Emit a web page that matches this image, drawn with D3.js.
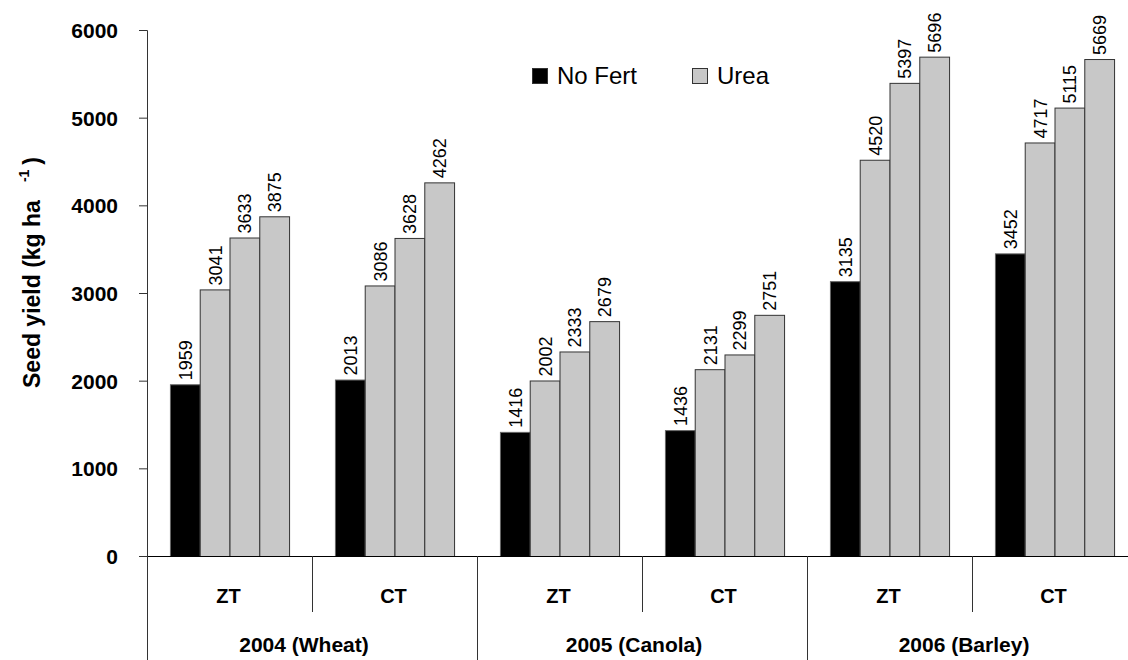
<!DOCTYPE html>
<html>
<head>
<meta charset="utf-8">
<script src="https://cdn.jsdelivr.net/npm/d3@7"></script>
<style>
  html, body { margin: 0; padding: 0; background: #fff; }
  svg { display: block; font-family: Arial, "Liberation Sans", sans-serif; }
</style>
</head>
<body>
<svg id="chart" width="1128" height="660"></svg>
<script>
// ---- data ----
const years = ["2004 (Wheat)", "2005 (Canola)", "2006 (Barley)"];
const tillage = ["ZT", "CT"];
const seriesNames = ["No Fert", "Urea", "Urea", "Urea"];
const noFert = [1959, 2013, 1416, 1436, 3135, 3452];
const urea1  = [3041, 3086, 2002, 2131, 4520, 4717];
const urea2  = [3633, 3628, 2333, 2299, 5397, 5115];
const urea3  = [3875, 4262, 2679, 2751, 5696, 5669];
const yTicks = [0, 1000, 2000, 3000, 4000, 5000, 6000];
const legendItems = ["No Fert", "Urea"];
const yLabel = "Seed yield (kg ha";

// ---- build ----
const clusters = [];
years.forEach((yr, i) => tillage.forEach((t, j) => clusters.push({ id: i * 2 + j, year: yr, till: t })));
const series = [noFert, urea1, urea2, urea3];

const svg = d3.select("#chart");
const plotLeft = 147, plotBase = 556, plotTop = 30;
const x0 = d3.scaleBand().domain(clusters.map(c => c.id)).range([plotLeft, plotLeft + 165 * 6]).padding(0);
const x1 = d3.scaleBand().domain([0, 1, 2, 3]).range([0, x0.bandwidth()]).paddingInner(0).paddingOuter(0.77);
const y = d3.scaleLinear().domain([0, 6000]).range([plotBase, plotTop]);
const color = ["#000000", "#c8c8c8", "#c8c8c8", "#c8c8c8"];

// bars
clusters.forEach((c, ci) => {
  const g = svg.append("g").attr("transform", `translate(${x0(c.id)},0)`);
  series.forEach((s, si) => {
    const v = s[ci];
    g.append("rect")
      .attr("x", x1(si) + 0.5)
      .attr("y", y(v) + 0.5)
      .attr("width", x1.bandwidth())
      .attr("height", plotBase - y(v))
      .attr("fill", color[si])
      .attr("stroke", si === 0 ? "#666" : "#333")
      .attr("stroke-width", 1);
    const cx = x1(si) + x1.bandwidth() / 2 + 7;
    const ty = y(v) - 4;
    g.append("text")
      .attr("transform", `translate(${cx},${ty}) rotate(-90)`)
      .attr("text-anchor", "start")
      .attr("font-size", 18)
      .attr("fill", "#000")
      .text(v);
  });
});

// y axis
const yAxis = d3.axisLeft(y).tickValues(yTicks).tickSize(8).tickPadding(21).tickFormat(d3.format("d"));
const ga = svg.append("g").attr("transform", `translate(${plotLeft},0)`).call(yAxis);
ga.select(".domain").attr("stroke", "#333").attr("d", `M-8,${plotTop + 0.5}H0.5V${plotBase}`);
ga.selectAll(".tick line").attr("stroke", "#333");
ga.selectAll(".tick text").attr("font-size", 21).attr("font-weight", "bold")
  .attr("font-family", "Arial, 'Liberation Sans', sans-serif").attr("fill", "#000").attr("dy", "0.36em");

// bottom axis line
svg.append("line").attr("x1", plotLeft).attr("x2", 1128).attr("y1", plotBase + 0.5).attr("y2", plotBase + 0.5).attr("stroke", "#000").attr("stroke-width", 1.2);

// dividers
for (let k = 0; k <= clusters.length; k++) {
  const xx = Math.round(plotLeft + k * x0.step()) + 0.5;
  const isYear = k % 2 === 0;
  svg.append("line").attr("x1", xx).attr("x2", xx).attr("y1", plotBase).attr("y2", isYear ? 660 : 612)
    .attr("stroke", "#333").attr("stroke-width", 1);
}

// category labels
clusters.forEach(c => {
  svg.append("text").attr("x", x0(c.id) + x0.bandwidth() / 2 - 1).attr("y", 603)
    .attr("text-anchor", "middle").attr("font-size", 20).attr("font-weight", "bold").text(c.till);
});
years.forEach((yr, i) => {
  svg.append("text").attr("x", plotLeft + (i * 2 + 1) * x0.step() - 8).attr("y", 652)
    .attr("text-anchor", "middle").attr("font-size", 21).attr("font-weight", "bold").text(yr);
});

// y label
const yl = svg.append("text").attr("transform", "translate(40,388) rotate(-90)")
  .attr("text-anchor", "start").attr("font-size", 23).attr("font-weight", "bold");
yl.append("tspan").text(yLabel);
yl.append("tspan").attr("font-size", 14).attr("dx", 18).attr("dy", -11).text("-1");
yl.append("tspan").attr("dx", 5).attr("dy", 11).text(")");

// legend
const legX = [532, 692];
legendItems.forEach((name, i) => {
  svg.append("rect").attr("x", legX[i] + 0.5).attr("y", 68.5).attr("width", 15).attr("height", 15)
    .attr("fill", i === 0 ? "#000" : "#c8c8c8").attr("stroke", "#333");
  svg.append("text").attr("x", legX[i] + 25).attr("y", 84).attr("font-size", 24).text(name);
});
</script>
</body>
</html>
